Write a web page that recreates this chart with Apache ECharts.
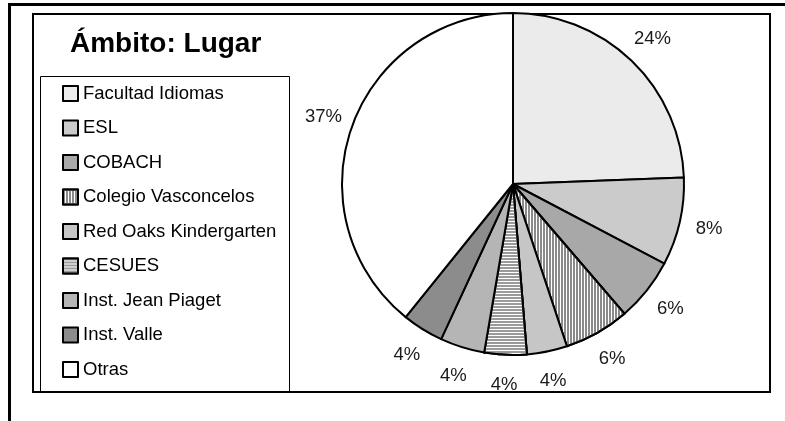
<!DOCTYPE html>
<html>
<head>
<meta charset="utf-8">
<script src="https://cdn.jsdelivr.net/npm/echarts@6/dist/echarts.min.js"></script>
<style>
  html, body { margin: 0; padding: 0; background: #fff; }
  #echarts-container { width: 785px; height: 421px; }
</style>
</head>
<body>
<div id="echarts-container"></div>
<script>
var categories = ['Facultad Idiomas', 'ESL', 'COBACH', 'Colegio Vasconcelos', 'Red Oaks Kindergarten', 'CESUES', 'Inst. Jean Piaget', 'Inst. Valle', 'Otras'];
var values = [24.4, 8.3, 6.0, 6.2, 3.8, 4.0, 4.2, 3.9, 39.2];
var pctLabels = ['24%', '8%', '6%', '6%', '4%', '4%', '4%', '4%', '37%'];

var fills = ['#ebebeb', '#cbcbcb', '#a8a8a8', '#ffffff', '#c6c6c6', '#ffffff', '#b5b5b5', '#8c8c8c', '#ffffff'];
var decals = [
  null, null, null,
  { symbol: 'rect', symbolSize: 1, color: '#8a8a8a', dashArrayX: [2, 1], dashArrayY: [1, 0] },
  null,
  { symbol: 'rect', symbolSize: 1, color: '#9a9a9a', dashArrayX: [1, 0], dashArrayY: [2, 1] },
  null, null, null
];

var font = '"Liberation Sans", Arial, sans-serif';

var dom = document.getElementById('echarts-container');
var myChart = echarts.init(dom);

var pieData = categories.map(function (name, i) {
  var it = { name: name, value: values[i], itemStyle: { color: fills[i] } };
  if (decals[i]) it.itemStyle.decal = decals[i];
  return it;
});
var labelData = categories.map(function (name, i) {
  return { name: name, value: values[i] };
});

var option = {
  animation: false,
  title: {
    text: 'Ámbito: Lugar',
    left: 70,
    top: 30,
    padding: 0,
    textStyle: { fontFamily: font, fontSize: 28, fontWeight: 'bold', color: '#000' }
  },
  legend: {
    orient: 'vertical',
    left: 62,
    top: 84,
    padding: 0,
    itemWidth: 15,
    itemHeight: 15,
    itemGap: 15.5,
    icon: 'rect',
    data: categories,
    itemStyle: { borderColor: '#000', borderWidth: 2 },
    textStyle: { fontFamily: font, fontSize: 18.5, color: '#000' }
  },
  graphic: [
    { type: 'rect', shape: { x: 9.5, y: 4.5, width: 900, height: 500 }, style: { fill: 'none', stroke: '#000', lineWidth: 3 } },
    { type: 'rect', shape: { x: 33, y: 14, width: 737, height: 378 }, style: { fill: 'none', stroke: '#000', lineWidth: 2 } },
    { type: 'rect', shape: { x: 40.5, y: 76.5, width: 249, height: 315 }, style: { fill: 'none', stroke: '#000', lineWidth: 1 } }
  ],
  series: [
    {
      type: 'pie',
      center: [513, 184],
      radius: [0, 171],
      startAngle: 90,
      clockwise: true,
      silent: true,
      label: { show: false },
      labelLine: { show: false },
      itemStyle: { borderColor: '#000', borderWidth: 2 },
      data: pieData
    },
    {
      type: 'pie',
      center: [513, 184],
      radius: [171, 225],
      startAngle: 90,
      clockwise: true,
      silent: true,
      itemStyle: { color: 'rgba(0,0,0,0)', borderWidth: 0 },
      label: {
        show: true,
        position: 'inside',
        formatter: function (p) { return pctLabels[p.dataIndex]; },
        fontFamily: font,
        fontSize: 18.5,
        color: '#1a1a1a'
      },
      labelLine: { show: false },
      data: labelData
    }
  ]
};

myChart.setOption(option);
window.addEventListener('resize', myChart.resize);
</script>
</body>
</html>
